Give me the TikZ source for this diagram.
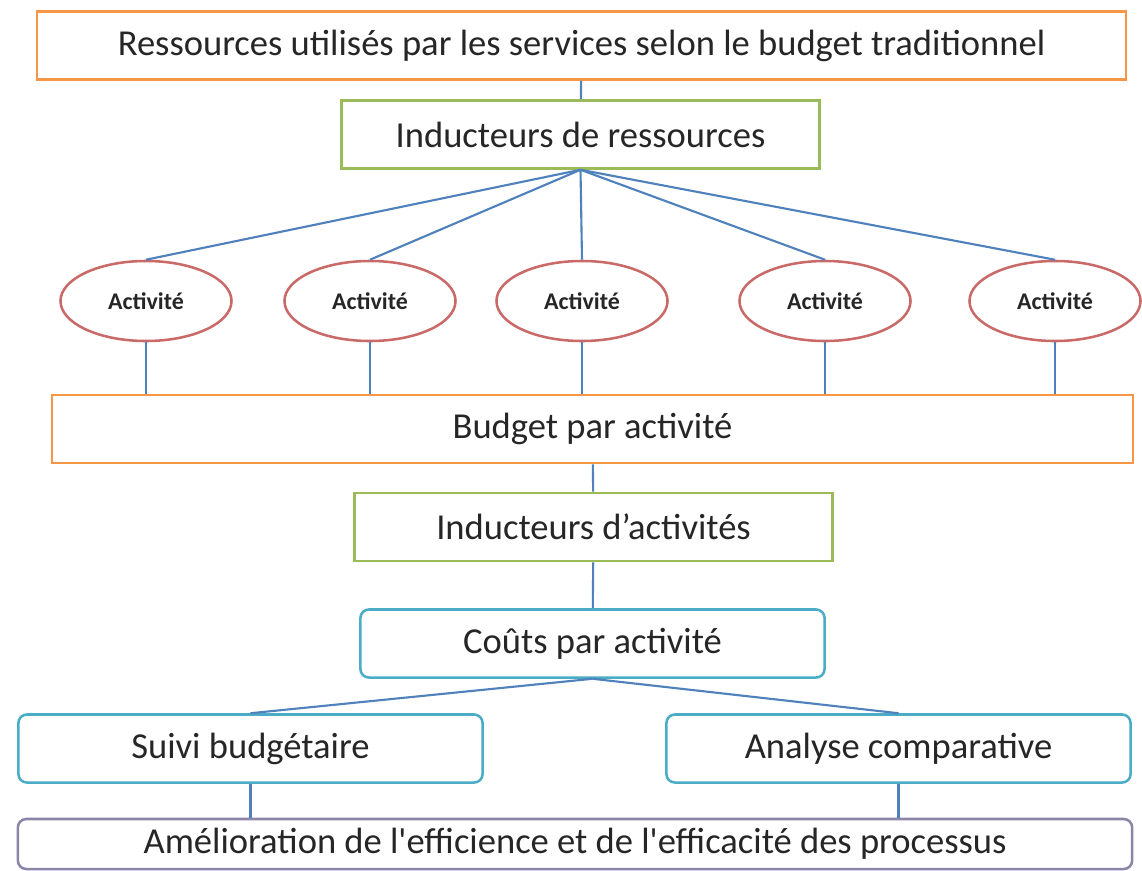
\documentclass[tikz,border=0pt]{standalone}
\usepackage{fontspec}
\setmainfont{Carlito}
\usetikzlibrary{shapes.geometric}
\definecolor{cadreOrange}{HTML}{F79646}
\definecolor{cadreVert}{HTML}{9BBB59}
\definecolor{cadreRouge}{HTML}{C0504D}
\definecolor{cadreCyan}{HTML}{4BACC6}
\definecolor{cadreViolet}{HTML}{8B86A8}
\definecolor{lienBleu}{HTML}{4F81BD}
\definecolor{textDark}{HTML}{262626}

\begin{document}
\begin{tikzpicture}[x=0.025cm, y=-0.025cm,
    boite/.style={rectangle, line width=1.8pt, inner sep=0pt, align=center,
      font=\fontsize{26}{30}\selectfont, text=textDark},
    large/.style={boite, draw=cadreOrange, minimum height=1.7cm},
    inducteur/.style={boite, draw=cadreVert, minimum width=11.95cm, minimum height=1.7cm},
    arrondi/.style={boite, rounded corners=6pt, minimum width=11.6cm, minimum height=1.7cm},
    activ/.style={ellipse, draw=cadreRouge!85, line width=1.8pt, inner sep=0pt,
      minimum width=4.275cm, minimum height=2cm,
      font=\fontsize{17}{20}\selectfont\bfseries, text=textDark},
    lien/.style={lienBleu, line width=1.5pt}]
    \fill[white] (0,0) rectangle (1142,870);
    % haut : budget traditionnel et inducteurs
    \node[large, minimum width=27.225cm] (trad) at (581.5,45.5)
      {Ressources utilisés par les services selon le budget traditionnel};
    \node[inducteur] (indRes) at (580.5,134.5) {Inducteurs de ressources};
    % les activités
    \foreach \x [count=\i] in {146,370,582,825,1055}
      \node[activ] (act\i) at (\x,301) {Activité};
    \node[large, minimum width=27.025cm] (budget) at (592.5,429) {Budget par activité};
    % bas : inducteurs d'activités et résultats
    \node[inducteur] (indAct) at (593.5,527) {Inducteurs d’activités};
    \node[arrondi, draw=cadreCyan] (couts) at (592.5,643.5) {Coûts par activité};
    \node[arrondi, draw=cadreCyan] (suivi) at (250.5,748.5) {Suivi budgétaire};
    \node[arrondi, draw=cadreCyan] (analyse) at (898.5,748.5) {Analyse comparative};
    \node[boite, rounded corners=6pt, draw=cadreViolet, minimum width=27.85cm,
      minimum height=1.25cm] (amelio) at (575,844)
      {Amélioration de l\textquotesingle efficience et de l\textquotesingle efficacité des processus};
    % liaisons
    \draw[lien] (trad) -- (indRes);
    \foreach \i in {1,...,5} {
      \draw[lien] (indRes.south) -- (act\i.north);
      \draw[lien] (act\i.south) -- (act\i.south |- budget.north);
    }
    \draw[lien] (budget) -- (indAct);
    \draw[lien] (indAct) -- (couts);
    \draw[lien] (couts.south) -- (suivi.north);
    \draw[lien] (couts.south) -- (analyse.north);
    \draw[lien] (suivi) -- (suivi |- amelio.north);
    \draw[lien] (analyse) -- (analyse |- amelio.north);
  \end{tikzpicture}
\end{document}
